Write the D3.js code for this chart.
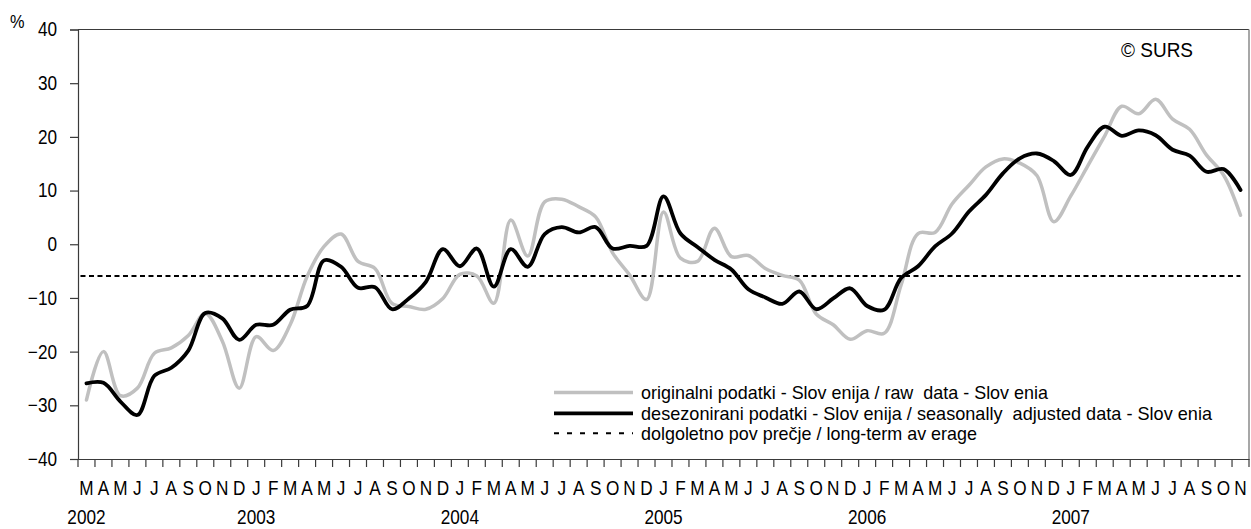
<!DOCTYPE html>
<html>
<head>
<meta charset="utf-8">
<script src="https://cdn.jsdelivr.net/npm/d3@7"></script>
<style>
  html, body { margin: 0; padding: 0; background: #fff; }
  svg { display: block; font-family: "Liberation Sans", Arial, sans-serif; }
</style>
</head>
<body>
<svg id="chart" width="1251" height="529"></svg>
<script>
// ---- data ----
const months = ["M","A","M","J","J","A","S","O","N","D",
  "J","F","M","A","M","J","J","A","S","O","N","D",
  "J","F","M","A","M","J","J","A","S","O","N","D",
  "J","F","M","A","M","J","J","A","S","O","N","D",
  "J","F","M","A","M","J","J","A","S","O","N","D",
  "J","F","M","A","M","J","J","A","S","O","N"];
const years = ["2002","2003","2004","2005","2006","2007"];
const yearStartIndex = [0, 10, 22, 34, 46, 58];
const rawData = [-29.0,-20.0,-28.2,-26.8,-20.3,-19.3,-17.0,-12.9,-18.0,-26.8,
  -17.2,-19.8,-15.0,-6.0,-0.4,1.9,-3.2,-4.5,-11.0,-11.6,-12.1,-10.1,
  -5.6,-5.9,-11.0,4.5,-2.2,7.9,8.4,7.0,5.1,-1.6,-5.7,-10.3,
  6.0,-2.6,-3.2,3.0,-2.3,-2.1,-4.5,-5.8,-6.7,-13.0,-15.0,-17.7,
  -16.1,-16.6,-7.6,2.0,2.2,7.5,11.0,14.4,15.9,15.1,12.8,4.2,
  9.0,14.6,20.2,25.7,24.3,27.0,23.3,21.4,16.6,12.9,5.4];
const adjData = [-25.9,-25.8,-29.3,-31.8,-24.5,-23.0,-19.8,-12.8,-13.8,-17.8,
  -15.0,-15.0,-12.2,-11.5,-3.0,-4.2,-8.1,-8.0,-12.1,-10.1,-7.0,-0.9,
  -4.1,-0.8,-7.9,-0.9,-4.2,1.9,3.2,2.2,3.2,-0.8,-0.3,-0.3,
  8.9,2.0,-0.5,-2.9,-4.7,-8.4,-9.9,-11.1,-8.8,-12.1,-10.1,-8.2,
  -11.5,-12.2,-6.3,-4.1,-0.4,2.0,6.1,9.2,13.2,16.0,16.9,15.5,
  12.9,18.2,21.9,20.2,21.2,20.3,17.6,16.5,13.5,14.0,10.1];
const longTermAverage = -5.9;
const yTicks = [-40,-30,-20,-10,0,10,20,30,40];
const legendLabels = [
  "originalni podatki - Slov enija / raw  data - Slov enia",
  "desezonirani podatki - Slov enija / seasonally  adjusted data - Slov enia",
  "dolgoletno pov prečje / long-term av erage"
];

// ---- layout ----
const svg = d3.select("#chart");
const L = 78, R = 1249, T = 29.5, B = 459;
const FS = 20, SX = 0.86;
const idx = d3.range(months.length);
const x = d3.scaleBand().domain(idx).range([L, R]).padding(0);
const xc = i => x(i) + x.bandwidth() / 2;
const y = d3.scaleLinear().domain([-40, 40]).range([B, T]);

const axisColor = "#3a3a3a";

// frame (top and right)
svg.append("line").attr("x1", L).attr("x2", R).attr("y1", T).attr("y2", T)
  .attr("stroke", axisColor).attr("stroke-width", 1.2);
svg.append("line").attr("x1", R).attr("x2", R).attr("y1", T).attr("y2", B)
  .attr("stroke", "#8a8a8a").attr("stroke-width", 1.5);

// y axis
const yAxis = d3.axisLeft(y).tickValues(yTicks).tickSize(8).tickPadding(13).tickFormat(d3.format("d"));
const gy = svg.append("g").attr("transform", `translate(${L},0)`).call(yAxis);
gy.select(".domain").attr("stroke", axisColor).attr("stroke-width", 1.2);
gy.selectAll(".tick line").attr("stroke", axisColor).attr("stroke-width", 1.2);
gy.selectAll(".tick text").attr("font-size", FS).attr("fill", "#000")
  .attr("font-family", "Liberation Sans, Arial, sans-serif")
  .attr("x", -21 / SX).attr("transform", `scale(${SX},1)`);

// x axis (category labels)
const xAxis = d3.axisBottom(x).tickSize(0).tickPadding(22).tickFormat(i => months[i]);
const gx = svg.append("g").attr("transform", `translate(0,${B})`).call(xAxis);
gx.select(".domain").attr("stroke", axisColor).attr("stroke-width", 1.2);
gx.selectAll(".tick text").attr("font-size", FS).attr("fill", "#000")
  .attr("font-family", "Liberation Sans, Arial, sans-serif")
  .attr("transform", `scale(${SX},1)`);
// boundary ticks
const boundaries = idx.map(i => x(i)).concat([x(months.length - 1) + x.bandwidth()]);
svg.append("g").selectAll("line").data(boundaries).join("line")
  .attr("x1", d => d).attr("x2", d => d).attr("y1", B).attr("y2", B + 8)
  .attr("stroke", axisColor).attr("stroke-width", 1.2);

// year labels
svg.append("g").selectAll("text").data(years).join("text")
  .attr("transform", (d, k) => `translate(${xc(yearStartIndex[k])},524.3) scale(${SX},1)`)
  .attr("text-anchor", "middle").attr("font-size", FS).attr("fill", "#000")
  .text(d => d);

// "%" label
svg.append("text").attr("transform", "translate(10,28) scale(0.86,1)")
  .attr("font-size", 19).attr("fill", "#000").text("%");

// © SURS
svg.append("text").attr("x", 1121).attr("y", 57).attr("font-size", FS).attr("fill", "#000")
  .attr("textLength", 72).attr("lengthAdjust", "spacingAndGlyphs").text("© SURS");

// long-term average
svg.append("line").attr("x1", xc(0) - 6).attr("x2", xc(months.length - 1))
  .attr("y1", y(longTermAverage)).attr("y2", y(longTermAverage))
  .attr("stroke", "#000").attr("stroke-width", 2)
  .attr("stroke-dasharray", "5,3.5");

const line = d3.line().x((d, i) => xc(i)).y(d => y(d)).curve(d3.curveCatmullRom.alpha(0.5));
svg.append("path").datum(rawData).attr("d", line)
  .attr("fill", "none").attr("stroke", "#c0c0c0").attr("stroke-width", 3.5)
  .attr("stroke-linejoin", "round").attr("stroke-linecap", "round");
svg.append("path").datum(adjData).attr("d", line)
  .attr("fill", "none").attr("stroke", "#000").attr("stroke-width", 3.8)
  .attr("stroke-linejoin", "round").attr("stroke-linecap", "round");

// legend
const legY = [392.5, 413.3, 433.3];
const legStyles = [
  {stroke: "#c0c0c0", w: 3.5, dash: null},
  {stroke: "#000", w: 3.8, dash: null},
  {stroke: "#000", w: 2, dash: "5,8"}
];
const legWidths = [407, 571, 336];
const lg = svg.append("g");
legendLabels.forEach((t, k) => {
  const ln = lg.append("line").attr("x1", 554).attr("x2", 633).attr("y1", legY[k]).attr("y2", legY[k])
    .attr("stroke", legStyles[k].stroke).attr("stroke-width", legStyles[k].w);
  if (legStyles[k].dash) ln.attr("stroke-dasharray", legStyles[k].dash);
  lg.append("text").attr("x", 641).attr("y", legY[k] + 6.5).attr("font-size", 19).attr("fill", "#000")
    .attr("textLength", legWidths[k]).attr("lengthAdjust", "spacingAndGlyphs")
    .style("white-space", "pre")
    .text(t);
});
</script>
</body>
</html>
